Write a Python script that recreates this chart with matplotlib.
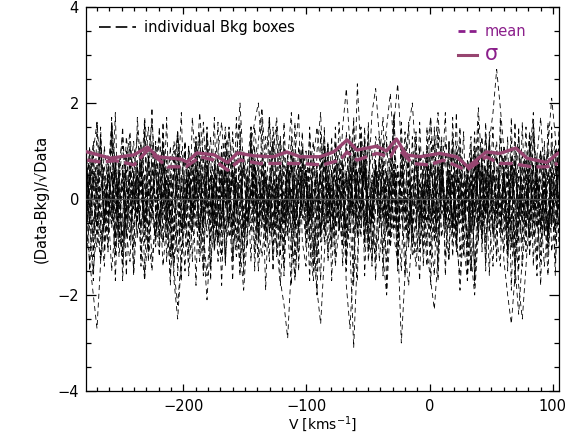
import numpy as np
import matplotlib
matplotlib.use("Agg")
import matplotlib.pyplot as plt
from matplotlib.lines import Line2D
from matplotlib.ticker import MultipleLocator

# ---------------- data ----------------
V_MIN, V_MAX = -279.0, 105.0   # velocity range covered by each box spectrum

# individual background boxes, values in units of 0.1
box_a = [3,-5,8,1,-9,-4,6,12,2,-7, -11,-3,5,9,-1,-6,4,15,7,-2, -8,0,6,-4,-13,-6,3,10,-1,5,
         11,2,-7,-16,-5,4,1,-3,8,14, 6,-2,-9,-4,5,0,7,-6,-12,-3, 4,9,17,6,-3,-8,2,-5,1,10,
         3,-7,-14,-2,6,11,4,-1,-6,2, 8,-4,-10,-31,-12,0,7,3,-5,9, 13,5,-3,-8,1,6,-2,-11,-18,-6,
         4,10,2,-5,7,-1,-9,3,12,5, -4,-10,1,8,-3,6,11,0,-7,4, 12,18,27,19,10,2,-6,-13,-4,5,
         9,1,-8,3,-2,-14,-5,6,10,-1]
box_b = [-6,2,9,-3,-12,-4,5,1,-8,7, 13,4,-5,-1,8,-9,-17,-6,3,0, 6,11,-2,-7,4,14,5,-6,-1,9,
         -4,-13,-2,7,3,-5,10,16,4,-8, -3,5,-10,-19,-7,2,8,-1,6,-4, 1,12,3,-6,-2,9,0,-11,-5,7,
         4,-3,8,15,6,-9,-1,3,-14,-6, 5,11,2,-4,24,9,-7,1,-10,3, 8,-2,-6,4,12,-8,-30,-16,-3,6,
         2,-9,-1,10,17,5,-4,7,-12,-2, 3,9,-5,1,-8,-15,-4,6,13,2, -7,4,10,-1,-11,5,0,8,-3,-9,
         6,14,3,-6,-2,9,-10,-4,2,11]
box_c = [9,1,-4,-10,2,7,-1,-15,-5,4, 11,3,-7,0,6,-12,-2,8,16,5, -3,-9,4,1,-6,10,3,-4,-11,0,
         7,13,2,-8,-3,5,-13,-4,9,1, -6,8,20,6,-5,-1,11,-9,-2,4, 0,-7,3,-17,-22,-29,-14,-3,6,10,
         2,-5,7,-1,-9,4,12,-3,-8,1, 15,23,11,-4,5,-2,9,-7,-13,-2, 6,1,-5,10,3,-8,-1,14,4,-6,
         -11,-4,7,2,-3,9,18,6,-5,0, 5,-9,-16,-3,8,1,-6,11,2,-4, 3,10,-2,-8,6,-12,-4,7,13,1,
         -6,4,-1,9,-10,-3,5,0,-7,8]
box_d = [-8,4,12,3,-5,0,9,-2,-11,-3, 6,-1,-9,5,14,4,-6,2,-13,-4, 1,8,-3,-16,-6,5,10,-1,3,-7,
         12,2,-5,7,-1,-10,-2,6,15,4, -3,-12,-4,9,1,-7,3,-15,-5,8, 17,6,-2,4,-9,0,7,-4,11,2,
         -6,3,-11,-2,8,13,2,-7,0,5, -9,-3,6,-1,4,10,-5,3,18,23, 13,4,-7,-2,8,-11,-4,1,9,-6,
         -14,-4,5,10,2,-9,6,-1,-3,12, 3,-6,-19,-5,4,9,-2,7,-8,1, 11,-3,6,0,-13,-20,-26,-16,-4,7,
         2,-8,13,4,-5,-1,10,-6,3,-2]
box_e = [1,10,4,-6,-13,-3,5,16,7,-2, -9,-2,7,1,-5,11,3,-8,-15,-4, 6,12,1,-4,9,-3,-10,-1,4,8,
         -2,-7,3,14,5,-6,0,8,-12,-4, 9,2,-5,-11,3,7,-2,12,19,6, -4,-10,1,6,-3,9,-7,-16,-5,4,
         10,2,-6,-19,-26,-12,3,-2,7,-1, 5,-9,-3,11,4,-6,8,-13,-2,6, -4,9,15,22,10,-3,5,-7,1,-10,
         -4,3,-8,1,12,6,-5,9,-1,-12, 4,-2,7,-9,-17,-5,3,8,-4,13, 2,-7,-1,5,11,3,-10,-3,6,-14,
         -4,7,16,4,-6,2,-9,1,10,-3]
box_f = [-12,-4,6,1,-7,11,3,-2,8,-5, -14,-3,5,12,2,-6,0,9,-4,7, 14,3,-8,-1,-17,-25,-13,-4,6,-2,
         8,1,-6,4,13,-3,-9,2,7,-1, 5,-10,-2,9,-5,3,15,6,-3,-8, 0,7,-12,-4,2,-7,10,1,-6,4,
         3,-9,-17,-5,6,11,-1,-4,9,-7, 2,6,-3,10,0,-8,12,-2,-5,8, -13,-3,5,1,16,24,11,-2,-9,3,
         8,-4,1,-11,-17,-23,-12,4,-2,9, -6,3,12,0,-8,5,-14,-4,7,2, 10,-1,-6,13,4,-3,8,-10,1,-5,
         5,-11,-3,9,17,4,-7,2,-13,1]
box_g = [6,-1,-9,3,11,-5,0,-4,7,-12, -3,8,14,2,-7,-1,5,-10,-3,12, 2,-14,-5,4,-9,9,-2,5,-16,-4,
         3,-7,10,-2,6,-11,-3,1,-6,9, -13,-2,7,-6,1,12,16,20,10,2, -7,4,-1,-12,7,-3,13,-6,0,8,
         -10,-2,9,-15,5,-1,6,-9,3,11, -4,1,8,-7,-2,12,-10,5,-3,7, 0,-12,-20,-5,6,-8,2,11,-5,-1,
         10,-6,3,-9,7,1,-14,8,-2,5, -7,11,-3,4,-10,-1,9,-5,6,-3, 12,-8,1,-4,8,-11,5,-1,-18,-25,
         -14,-3,7,-6,10,2,-9,4,-1,8]
box_h = [-6,-13,-20,-27,-13,2,-3,5,-1,4, 7,-2,1,-6,3,9,-4,2,-1,-8, -3,1,-5,6,12,4,-7,0,3,-2,
         4,18,8,-3,5,-1,-9,-4,2,-5, 6,-1,-14,-5,0,-2,7,-1,3,-6, 2,-4,5,13,3,-1,-7,-17,-6,1,
         -3,2,-1,6,-8,3,5,-2,-4,1, 1,-6,4,-3,9,15,4,-1,-5,2, 5,-4,2,-10,-3,-1,7,0,-6,3,
         -2,4,-1,8,-5,2,13,3,-4,6, -9,-2,3,-4,1,-12,-20,-7,5,-3, 2,6,-3,-1,5,-6,3,9,-2,0,
         -5,4,-2,8,-3,5,11,21,13,4]
box_i = [5,3,10,16,5,-4,1,-6,3,-2, 0,6,-3,2,-5,4,17,8,-2,-7, 3,-2,5,0,-4,-11,-3,-1,4,-6,
         2,5,-3,-1,3,-5,7,0,-2,15, 4,-2,3,-7,-3,2,-5,4,0,6, -2,3,-9,-18,-6,-3,2,-1,5,-4,
         6,0,-3,4,-1,8,-5,2,1,-3, 4,-18,-27,-12,5,-2,6,-1,-4,3, 1,-3,6,-5,2,5,-1,-3,4,0,
         -6,3,1,-2,9,-4,2,0,-1,6, 4,-5,1,-1,5,-7,3,19,6,-2, 5,-2,-4,3,0,-6,7,-1,3,-4,
         0,5,-2,1,-5,4,1,-4,7,-2]
box_j = [2,-5,3,7,-2,-6,4,0,-3,6, -8,2,-1,5,-4,6,0,-3,8,-1, 4,-6,1,-3,7,0,-7,3,5,-4,
         -1,4,-9,-21,-8,2,6,-3,1,-5, 7,-1,4,-6,3,0,5,-8,2,4, -3,1,-5,7,-2,4,-7,5,-1,3,
         6,-4,2,0,-6,8,-3,1,4,-6, 0,5,-3,7,-8,2,4,-2,-4,6, -1,3,-5,1,6,-3,8,9,15,20,
         8,-1,-4,3,-7,4,-2,6,-5,1, 3,-8,5,-2,2,-4,7,0,-6,4, -3,6,1,-6,4,-1,-5,8,-3,2,
         6,-4,-2,5,-7,3,0,-5,4,7]
box_k = [-4,6,-1,-5,3,2,-7,6,-3,1, 5,-4,8,-2,-3,4,-6,2,6,-1, -5,7,-2,5,1,-8,3,-4,6,2,
         -6,3,5,-1,-5,7,-3,6,-7,0, 4,-3,1,6,-5,2,-2,8,-4,3, -1,-6,5,3,-5,7,-1,-6,4,-2,
         6,-8,2,5,-3,1,-5,6,-2,3, -7,4,-1,8,-4,-1,6,-6,3,5, -2,7,-5,2,-6,5,1,-3,6,-8,
         3,-1,6,-5,2,-3,8,-1,-7,4, 1,6,-5,-2,5,-7,3,6,-4,1, -5,5,-2,7,-1,-4,2,6,-6,3,
         8,-3,-5,4,1,-7,6,-2,2,-7]
box_l = [7,-2,4,-6,2,5,-4,-1,6,-5, 3,-8,5,0,-3,7,-5,2,-1,6, -4,2,8,-5,-1,5,-7,4,1,-2,
         6,-7,4,1,-4,6,-2,-5,7,-1, -5,2,6,-2,-7,4,5,-4,1,-8, 5,1,-3,6,-5,-1,7,-7,2,4,
         -2,7,-4,1,5,-6,3,-2,8,-5, 1,4,-7,5,-1,7,-4,-5,2,7, -6,1,5,-3,4,-7,7,2,-5,-1,
         8,-2,-5,4,1,-7,5,7,-4,2, -4,6,-1,-7,4,2,-5,8,-1,-3, 5,-7,4,1,-4,6,-2,-8,5,3,
         -1,7,-5,4,-2,-1,5,-4,7,-2]
box_m = [-2,5,-7,3,6,-4,1,-5,8,-1, 4,-7,2,-2,5,1,-5,7,-4,-8, 6,-1,4,-6,-15,-22,-12,-2,7,-4,
         2,7,-3,-6,5,1,-8,5,-1,4, -7,4,-2,7,2,-5,7,-4,0,5, -7,3,5,-2,-5,8,-1,4,-6,1,
         6,-4,-1,7,-7,2,4,-3,-5,7, 2,-7,5,-4,1,6,-2,-8,5,1, -4,7,-2,4,-6,7,0,-5,3,-7,
         5,-1,-4,8,-5,2,7,-3,-1,4, -6,4,1,-5,7,-2,5,-7,2,6, -3,-1,5,-7,4,8,-4,-14,-24,-12,
         2,-5,7,-2,4,-4,-7,6,1,-5]
box_n = [12,-3,-15,-6,9,4,-11,17,2,-8, -5,13,6,-16,-2,10,-9,3,19,-4, -12,7,1,-18,8,14,-6,-1,11,-13,
         5,-9,16,3,-14,-4,9,-7,13,0, -17,6,11,-3,-10,15,2,-8,7,-19, 4,12,-6,1,-14,8,18,-5,-11,6,
         -2,14,-9,-20,5,10,-4,13,-12,3, 9,-15,7,16,-6,-1,12,-10,4,-17, 11,-3,-13,6,17,-7,2,-16,8,-5,
         14,-11,0,9,-18,4,15,-8,-2,12, -6,18,-12,3,7,-15,10,-1,-9,16, -4,-14,9,2,-7,13,-19,6,11,-3,
         15,-8,4,-13,10,-2,-16,7,12,-10]
box_o = [-14,8,2,-7,15,-11,6,-3,18,-9, 7,-16,11,4,-8,-1,14,-13,5,9, -10,16,-4,-12,9,3,-17,12,-6,1,
         13,-5,-15,8,-2,17,-9,4,-13,10, 2,-8,14,-16,6,11,-4,-12,9,-1, -13,15,5,-9,12,-6,-18,7,3,14,
         -7,1,-15,10,18,-3,-11,6,-5,16, 4,-12,13,-8,-17,9,2,14,-6,-13, 8,17,-4,-10,5,-15,11,-1,-8,13,
         -3,-17,10,6,-12,15,-7,3,18,-6, 11,-9,-1,14,-14,5,-4,16,-11,7, -16,6,12,-5,3,-10,17,-13,-2,9,
         5,-12,14,1,-18,8,-6,11,-9,15]
box_p = [9,-6,-17,5,13,-2,-10,16,-8,3, -12,10,1,-15,17,6,-5,-11,12,-3, 15,-9,-4,11,-14,2,18,-7,-13,8,
         -1,14,-16,5,9,-10,3,-18,11,6, -8,17,-3,-13,7,15,-11,1,-6,13, 10,-15,4,-7,16,-1,-12,9,18,-9,
         -14,6,12,-5,-17,11,3,-10,15,-2, 7,-13,-3,17,-8,14,-16,5,10,-11, -6,12,-19,9,2,-14,16,-4,-10,7,
         13,-2,-11,15,-7,-16,8,11,-5,-13, 17,-6,10,-12,4,13,-18,-2,8,-9, 1,15,-8,-14,11,6,-10,16,-15,3,
         -11,9,18,-4,-13,12,-7,5,-16,10]
box_q = [-3,11,-12,16,-5,-14,7,10,-17,4, 15,-7,-13,6,-1,12,-16,9,3,-10, 8,-4,17,-11,-6,14,-2,-15,11,5,
         -18,9,-3,13,-9,2,16,-12,6,-5, 14,-1,-16,10,4,-13,8,-7,17,-10, 3,-12,15,-6,-11,7,-3,16,-15,11,
         6,-17,9,2,-8,15,-13,-1,12,-4, -10,14,-5,-16,11,4,-9,16,-14,8, 1,-11,13,-7,18,-3,-15,10,5,-12,
         -9,16,-2,-14,7,12,-17,3,9,-6, 13,-11,5,8,-16,-1,14,-9,11,-15, 7,2,-13,17,-4,-10,9,-18,15,-7,
         -2,12,-14,6,10,-8,16,-11,-4,13]
box_r = [10,-15,5,-1,13,-9,-4,15,-12,8, -17,3,12,-10,7,-14,16,-6,-2,11, -7,14,-13,4,10,-16,1,12,-9,17,
         6,-11,-5,15,-17,8,-2,11,-14,3, -12,9,16,-8,-3,13,-15,5,10,-6, 17,-4,-10,12,-16,2,9,-13,7,-1,
         -9,15,-3,-12,14,-7,11,-17,4,8, -14,5,10,-18,6,-4,15,-11,-1,13, 9,-16,3,12,-8,-13,7,-2,16,-10,
         -5,11,-14,4,17,-9,-1,13,-16,6, -12,2,15,-7,-10,11,-17,8,3,-13, 14,-6,-11,10,5,-15,12,-3,-9,16,
         -8,13,-2,-16,9,4,-12,15,-6,1]
boxes = [box_a, box_b, box_c, box_d, box_e, box_f, box_g, box_h, box_i,
         box_j, box_k, box_l, box_m, box_n, box_o, box_p, box_q, box_r]

# mean and sigma curves
sigma_v = [-278, -259, -240, -229, -221, -202, -197, -189, -175, -164, -156, -143, -127,
           -116, -105, -89, -78, -67, -59, -43, -35, -27, -19, -8, 8, 22, 31, 46, 57, 70,
           79, 95, 104]
sigma_y = [0.98, 0.85, 0.92, 1.08, 0.88, 0.83, 0.77, 0.96, 0.92, 0.76, 0.96, 0.90, 0.88,
           0.98, 0.88, 0.88, 0.98, 1.23, 1.02, 1.10, 1.00, 1.25, 0.92, 0.88, 0.95, 0.88,
           0.67, 0.98, 0.95, 1.06, 0.85, 0.76, 0.95]
mean_v = [-278, -267, -255, -240, -229, -213, -198, -186, -175, -164, -154, -138, -121,
          -105, -87, -73, -67, -59, -43, -32, -27, -14, 0, 11, 30, 46, 57, 67, 83, 95, 104]
mean_y = [0.81, 0.77, 0.80, 0.71, 1.02, 0.67, 0.67, 0.88, 0.81, 0.60, 0.81, 0.74, 0.74,
          0.74, 0.71, 0.81, 0.98, 0.81, 0.95, 0.88, 1.09, 0.74, 0.71, 0.81, 0.60, 0.88,
          0.74, 0.74, 0.67, 0.67, 0.74]

# ---------------- figure ----------------
PURPLE_LINE = "#974570"
PURPLE_TEXT = "#8b1f8b"

fig = plt.figure(figsize=(5.69, 4.33), dpi=100)
ax = fig.add_axes([86/569, 1 - 391/433, (559 - 86)/569, (391 - 7)/433])

for b in boxes:
    vals = np.asarray(b, dtype=float) / 10.0
    v = np.linspace(V_MIN, V_MAX, len(vals))
    ax.plot(v, vals, color="black", lw=0.6, dashes=(6, 4.5), zorder=2)

ax.axhline(0, color="#555555", lw=1.0, zorder=3)

ax.plot(mean_v, mean_y, color=PURPLE_LINE, lw=2.4, dashes=(4, 1.6), zorder=4)
ax.plot(sigma_v, sigma_y, color=PURPLE_LINE, lw=2.4, zorder=4)

ax.set_xlim(V_MIN, V_MAX)
ax.set_ylim(-4, 4)
ax.xaxis.set_major_locator(MultipleLocator(100))
ax.xaxis.set_minor_locator(MultipleLocator(10))
ax.yaxis.set_major_locator(MultipleLocator(2))
ax.yaxis.set_minor_locator(MultipleLocator(0.5))
ax.tick_params(which="both", direction="in", top=True, right=True, width=0.9)
ax.tick_params(axis="x", which="major", length=5, pad=6, labelsize=10.5)
ax.tick_params(axis="x", which="minor", length=3)
ax.tick_params(axis="y", which="major", length=7, pad=5, labelsize=10.5)
ax.tick_params(axis="y", which="minor", length=3.5)
for s in ax.spines.values():
    s.set_linewidth(0.9)

ax.set_xlabel(r"V [kms$^{-1}$]", fontsize=10, labelpad=0)
ax.set_ylabel("(Data-Bkg)/√Data", fontsize=10.5, labelpad=6)

# legends
h1 = [Line2D([], [], color="black", lw=1.2, dashes=(7, 3))]
leg1 = ax.legend(h1, ["individual Bkg boxes"], loc="upper left", frameon=False,
                 fontsize=10.5, handlelength=2.5, handletextpad=0.6,
                 bbox_to_anchor=(0.0, 1.0), borderaxespad=0.5)
ax.add_artist(leg1)
h2 = [Line2D([], [], color=PURPLE_TEXT, lw=2.0, dashes=(2.5, 1.5)),
      Line2D([], [], color=PURPLE_LINE, lw=2.2)]
leg2 = ax.legend(h2, ["mean", "σ"], loc="upper right", frameon=False,
                 fontsize=10.5, handlelength=1.3, handletextpad=0.5,
                 bbox_to_anchor=(0.955, 0.985), borderaxespad=0.4, labelspacing=0.3)
for t in leg2.get_texts():
    t.set_color(PURPLE_TEXT)
leg2.get_texts()[1].set_fontsize(15)

fig.savefig("out.png", dpi=100)
